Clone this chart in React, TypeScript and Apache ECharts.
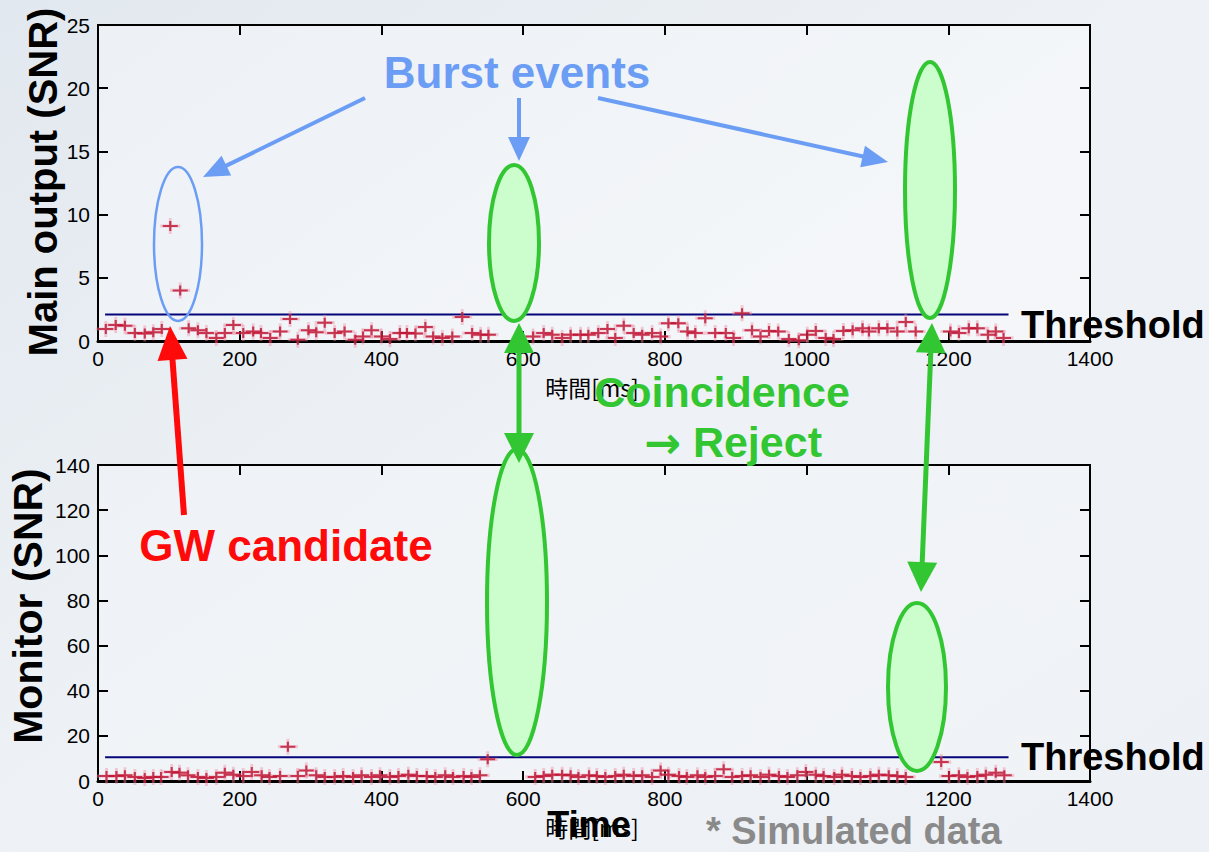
import React, { useEffect, useRef } from "react";
import * as echarts from "echarts";

// ---- Data ----
const mainTime = [11, 25, 38, 52, 66, 78, 90, 102, 116, 128, 141, 153, 167, 179, 191, 205, 219, 230, 243, 257, 271, 282, 297, 308, 320, 334, 348, 363, 374, 386, 400, 412, 426, 436, 448, 462, 473, 486, 500, 514, 528, 540, 551, 614, 629, 641, 655, 667, 681, 692, 706, 719, 730, 742, 756, 768, 782, 794, 805, 819, 832, 843, 857, 871, 886, 897, 909, 923, 935, 947, 960, 975, 989, 1001, 1013, 1027, 1038, 1052, 1065, 1079, 1088, 1102, 1114, 1128, 1140, 1154, 1203, 1215, 1229, 1241, 1256, 1267, 1278];
const mainSNR = [0.95, 1.27, 1.2, 0.63, 0.6, 0.7, 0.95, 9.1, 4.0, 1.0, 0.85, 0.63, 0.24, 0.63, 1.27, 0.63, 0.75, 0.63, 0.24, 0.75, 1.74, 0.1, 0.85, 0.7, 1.45, 0.63, 0.75, 0.1, 0.35, 0.85, 0.35, 0.15, 0.63, 0.63, 0.6, 1.1, 0.35, 0.24, 0.35, 1.9, 0.63, 0.5, 0.5, 0.35, 0.63, 0.5, 0.24, 0.5, 0.5, 0.5, 0.63, 0.95, 0.24, 1.2, 0.63, 0.5, 0.63, 0.35, 1.4, 1.4, 0.75, 0.63, 1.8, 0.63, 0.63, 0.24, 2.2, 0.85, 0.35, 0.8, 0.75, 0.15, 0.05, 0.5, 0.8, 0.24, 0.15, 0.8, 0.85, 1.0, 0.75, 1.0, 1.0, 0.75, 1.5, 0.75, 0.75, 0.63, 1.0, 1.0, 0.5, 0.75, 0.24];

const monitorTime = [12, 26, 38, 52, 66, 78, 89, 104, 115, 127, 141, 153, 167, 179, 191, 205, 217, 231, 242, 257, 268, 282, 294, 308, 320, 334, 346, 360, 372, 386, 398, 412, 424, 438, 450, 464, 476, 490, 501, 516, 527, 539, 550, 617, 629, 641, 655, 667, 678, 693, 704, 716, 730, 742, 756, 768, 782, 794, 805, 820, 831, 846, 857, 871, 883, 895, 909, 921, 935, 947, 961, 973, 987, 999, 1013, 1024, 1039, 1050, 1064, 1076, 1090, 1102, 1116, 1128, 1140, 1190, 1201, 1215, 1227, 1241, 1253, 1267, 1279];
const monitorSNR = [2.2, 2.2, 2.5, 1.8, 1.3, 1.8, 1.8, 4.0, 3.7, 2.5, 1.8, 1.3, 1.8, 3.7, 2.8, 2.2, 4.0, 2.5, 1.8, 2.2, 15.2, 2.2, 4.7, 2.5, 1.8, 1.8, 2.2, 1.8, 2.5, 1.8, 2.5, 1.8, 2.2, 2.8, 2.2, 2.2, 1.8, 2.5, 1.8, 2.2, 1.8, 2.5, 9.6, 1.8, 2.2, 2.8, 2.8, 2.5, 1.8, 2.5, 2.2, 1.8, 2.2, 2.8, 2.2, 2.5, 1.8, 4.7, 2.8, 2.2, 1.8, 2.5, 1.8, 2.2, 5.2, 1.8, 2.2, 2.5, 1.8, 2.8, 2.2, 1.8, 2.5, 4.0, 2.8, 2.2, 1.8, 2.8, 2.2, 1.8, 2.2, 2.8, 2.5, 2.2, 1.8, 8.4, 2.2, 2.5, 1.8, 2.2, 2.8, 3.7, 2.5];

const mainThreshold = 2.1;
const monitorThreshold = 10.5;
const thresholdSpan = [10, 1285];

const timeRange = [0, 1400];
const timeStep = 200;
const mainRange = [0, 25];
const mainStep = 5;
const monitorRange = [0, 140];
const monitorStep = 20;

// ---- styling ----
const FONT = "'Liberation Sans', Arial, Helvetica, sans-serif";
const BLUE = "#6b9df5";
const GREEN = "#33c633";
const GREEN_FILL = "#ccfdcc";
const RED = "#ff0a0a";
const PLUS = "path://M0,4L14,4L14,6L0,6Z M6,0L8,0L8,10L6,10Z";

function arrow(x1: number, y1: number, x2: number, y2: number, color: string, lw: number, hl: number, hw: number, both = false) {
  const dx = x2 - x1, dy = y2 - y1;
  const L = Math.hypot(dx, dy);
  const ux = dx / L, uy = dy / L;
  const px = -uy, py = ux;
  const head = (tx: number, ty: number, dirx: number, diry: number) => ({
    type: "polygon",
    z: 120,
    shape: {
      points: [
        [tx, ty],
        [tx - dirx * hl + px * hw / 2, ty - diry * hl + py * hw / 2],
        [tx - dirx * hl - px * hw / 2, ty - diry * hl - py * hw / 2],
      ],
    },
    style: { fill: color },
  });
  const sx = both ? x1 + ux * hl * 0.8 : x1;
  const sy = both ? y1 + uy * hl * 0.8 : y1;
  const ex = x2 - ux * hl * 0.8, ey = y2 - uy * hl * 0.8;
  const els: any[] = [
    { type: "line", z: 119, shape: { x1: sx, y1: sy, x2: ex, y2: ey }, style: { stroke: color, lineWidth: lw } },
    head(x2, y2, ux, uy),
  ];
  if (both) els.push(head(x1, y1, -ux, -uy));
  return els;
}

function txt(x: number, y: number, text: string, size: number, color: string, opts: any = {}) {
  return {
    type: "text",
    z: 130,
    x,
    y,
    rotation: opts.rotation || 0,
    style: {
      text,
      fill: color,
      font: `${opts.weight || "bold"} ${size}px ${opts.family || FONT}`,
      align: opts.align || "center",
      verticalAlign: "middle",
    },
  };
}

function ellipse(cx: number, cy: number, rx: number, ry: number, fill: string, stroke: string, lw: number) {
  return { type: "ellipse", z: 110, shape: { cx, cy, rx, ry }, style: { fill, stroke, lineWidth: lw } };
}

export default function App() {
  const ref = useRef<HTMLDivElement>(null);
  useEffect(() => {
    if (!ref.current) return;
    const chart = echarts.init(ref.current, undefined, { renderer: "svg" });

    const mainData = mainTime.map((t, i) => [t, mainSNR[i]]);
    const monData = monitorTime.map((t, i) => [t, monitorSNR[i]]);
    const plain = (v: number) => String(v);

    const xAxisBase = (gridIndex: number, position: string, labels: boolean) => ({
      gridIndex,
      type: "value",
      position,
      min: timeRange[0],
      max: timeRange[1],
      interval: timeStep,
      axisLine: { show: true, onZero: false, lineStyle: { color: "#000", width: position === "bottom" ? 3 : 2 } },
      axisTick: { show: true, inside: true, length: 10, lineStyle: { color: "#000", width: 2 } },
      axisLabel: { show: labels, fontSize: 21, color: "#000", margin: 7, fontFamily: FONT, formatter: plain },
      splitLine: { show: false },
    });
    const yAxisBase = (gridIndex: number, position: string, labels: boolean, range: number[], step: number) => ({
      gridIndex,
      type: "value",
      position,
      min: range[0],
      max: range[1],
      interval: step,
      axisLine: { show: true, onZero: false, lineStyle: { color: "#000", width: 2 } },
      axisTick: { show: true, inside: true, length: 10, lineStyle: { color: "#000", width: 2 } },
      axisLabel: { show: labels, fontSize: 21, color: "#000", margin: 8, fontFamily: FONT, formatter: plain },
      splitLine: { show: false },
    });

    const pointSeries = (data: number[][], xi: number, yi: number) => [
      {
        type: "scatter",
        xAxisIndex: xi,
        yAxisIndex: yi,
        data,
        symbol: PLUS,
        symbolSize: [20, 16],
        itemStyle: { color: "rgba(236,140,165,0.55)" },
        z: 3,
        silent: true,
      },
      {
        type: "scatter",
        xAxisIndex: xi,
        yAxisIndex: yi,
        data,
        symbol: PLUS,
        symbolSize: [15, 10],
        itemStyle: { color: "#bd1230" },
        z: 4,
        silent: true,
      },
    ];
    const thresholdSeries = (value: number, xi: number, yi: number) => ({
      type: "line",
      xAxisIndex: xi,
      yAxisIndex: yi,
      data: [[thresholdSpan[0], value], [thresholdSpan[1], value]],
      symbol: "none",
      lineStyle: { color: "#05057a", width: 2 },
      z: 2,
      silent: true,
    });

    const rejectText = {
      type: "text",
      z: 130,
      x: 733,
      y: 442,
      style: {
        text: "{a|→}{s| }{b|Reject}",
        align: "center",
        verticalAlign: "middle",
        rich: {
          a: { fill: GREEN, font: "bold 44px 'DejaVu Sans', sans-serif" },
          s: { width: 12 },
          b: { fill: GREEN, font: `bold 43px ${FONT}` },
        },
      },
    };

    const graphics: any[] = [
      // axis names
      txt(43, 182, "Main output (SNR)", 40, "#000", { rotation: Math.PI / 2 }),
      txt(28, 606, "Monitor (SNR)", 41, "#000", { rotation: Math.PI / 2 }),
      txt(592, 387, "時間[ms]", 23, "#000", { weight: "normal", family: "'Noto Sans CJK JP', sans-serif" }),
      txt(592, 827, "時間[ms]", 23, "#000", { weight: "normal", family: "'Noto Sans CJK JP', sans-serif" }),
      txt(589, 824, "Time", 36, "#000"),
      // ellipses
      ellipse(178, 244, 24, 77, "rgba(0,0,0,0)", BLUE, 2.5),
      ellipse(514, 243, 25, 78, GREEN_FILL, GREEN, 4),
      ellipse(930, 190, 25, 128, GREEN_FILL, GREEN, 4),
      ellipse(517, 602, 30, 153, GREEN_FILL, GREEN, 4),
      ellipse(917, 687, 29, 84, GREEN_FILL, GREEN, 4),
      // blue arrows
      ...arrow(365, 98, 203, 177, BLUE, 4, 26, 22),
      ...arrow(519, 98, 519, 161, BLUE, 4, 24, 22),
      ...arrow(598, 98, 888, 162, BLUE, 4, 26, 22),
      // green double arrows
      ...arrow(519, 323, 519, 463, GREEN, 5, 30, 30, true),
      ...arrow(932, 323, 921, 592, GREEN, 5, 30, 30, true),
      // red arrow
      ...arrow(184, 515, 170, 326, RED, 6, 34, 30),
      // annotation texts
      txt(517, 72, "Burst events", 44, BLUE),
      txt(722, 392, "Coincidence", 43, GREEN),
      rejectText,
      txt(286, 545, "GW candidate", 44, RED),
      txt(1021, 325, "Threshold", 38, "#000", { align: "left" }),
      txt(1021, 757, "Threshold", 38, "#000", { align: "left" }),
      txt(706, 831, "* Simulated data", 38, "#8a8a8a", { align: "left" }),
    ];

    chart.setOption({
      animation: false,
      backgroundColor: {
        type: "linear",
        x: 0,
        y: 0,
        x2: 1,
        y2: 1,
        colorStops: [
          { offset: 0, color: "#e2e8ef" },
          { offset: 0.5, color: "#eef2f6" },
          { offset: 1, color: "#edf0f4" },
        ],
      },
      grid: [
        { left: 98, top: 25, width: 992, height: 316, show: true, borderColor: "#000", borderWidth: 2, backgroundColor: "rgba(255,255,255,0.35)" },
        { left: 98, top: 465, width: 992, height: 316, show: true, borderColor: "#000", borderWidth: 2, backgroundColor: "rgba(255,255,255,0.2)" },
      ],
      xAxis: [
        xAxisBase(0, "bottom", true),
        xAxisBase(0, "top", false),
        xAxisBase(1, "bottom", true),
        xAxisBase(1, "top", false),
      ],
      yAxis: [
        yAxisBase(0, "left", true, mainRange, mainStep),
        yAxisBase(0, "right", false, mainRange, mainStep),
        yAxisBase(1, "left", true, monitorRange, monitorStep),
        yAxisBase(1, "right", false, monitorRange, monitorStep),
      ],
      series: [
        thresholdSeries(mainThreshold, 0, 0),
        ...pointSeries(mainData, 0, 0),
        thresholdSeries(monitorThreshold, 2, 2),
        ...pointSeries(monData, 2, 2),
      ],
      graphic: graphics,
    });
    return () => chart.dispose();
  }, []);
  return <div ref={ref} style={{ position: "fixed", left: 0, top: 0, width: 1209, height: 852 }} />;
}
